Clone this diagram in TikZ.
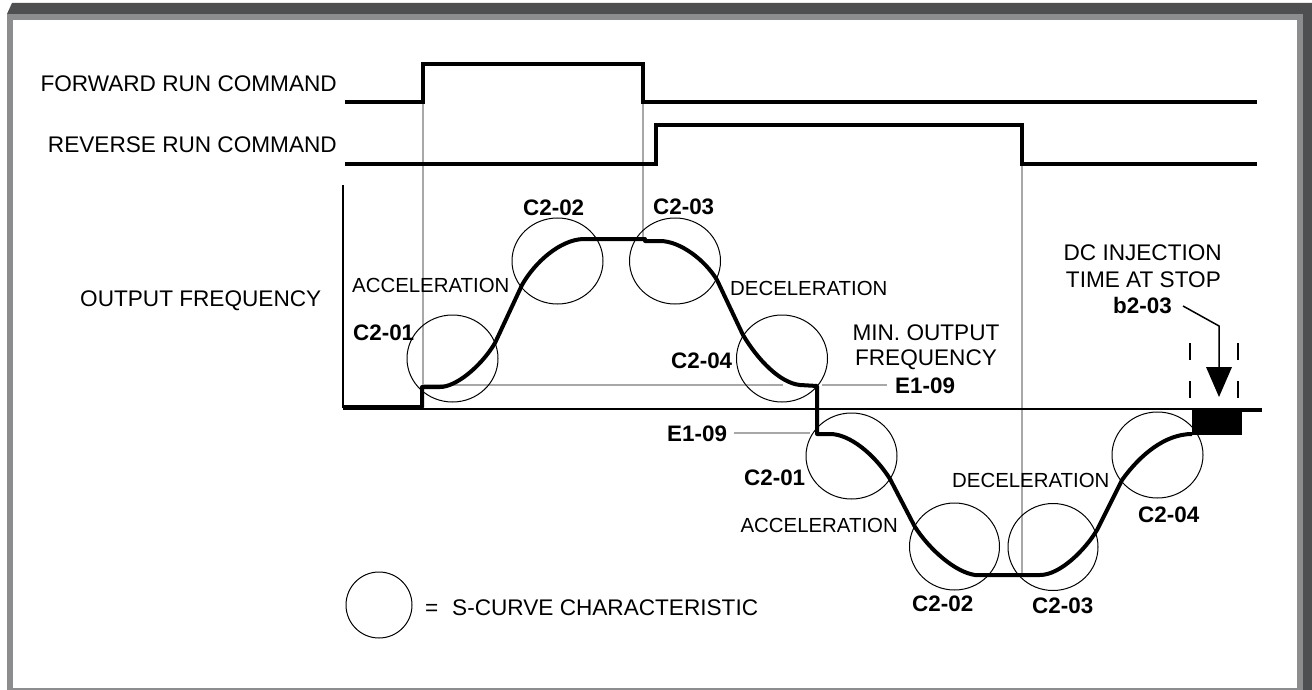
\documentclass[tikz,border=0pt]{standalone}
\usepackage{fontspec}
\setmainfont{Liberation Sans}
\definecolor{framedark}{HTML}{4E4F51}
\definecolor{framelight}{HTML}{8C8D8F}
\definecolor{guidegray}{HTML}{A8A8A8}
\tikzset{
  lbl/.style={inner sep=0pt, font=\fontsize{22.6}{26}\selectfont},
  blbl/.style={inner sep=0pt, font=\fontsize{22.4}{26}\selectfont\bfseries},
  slbl/.style={inner sep=0pt, font=\fontsize{20.4}{24}\selectfont},
  sig/.style={line width=4pt, line join=miter},
  freq/.style={line width=4pt, line join=round},
  scircle/.style={draw=black, line width=1pt},
  guide/.style={draw=guidegray, line width=1.5pt},
}
\begin{document}
\begin{tikzpicture}[x=1pt,y=-1pt]
\useasboundingbox (0,0) rectangle (1312,690);
% frame
\fill[framedark] (7,14) -- (12,3) -- (1312,3) -- (1312,690) -- (1303,690) -- (1303,14) -- cycle;
\fill[framelight] (7,14) rectangle (1303,20.5);
\fill[framelight] (7,14) rectangle (12.5,690);
\fill[framelight] (1297,14) rectangle (1303,690);
\fill[framelight] (7,687.5) rectangle (1303,690);

% labels
\node[lbl, anchor=base east] (fwdlbl) at (337,92) {FORWARD RUN COMMAND};
\node[lbl, anchor=base east] (revlbl) at (337,153) {REVERSE RUN COMMAND};
\node[lbl, anchor=base west] (outlbl) at (80,306) {OUTPUT FREQUENCY};

% guide lines
\draw[guide] (423,104) -- (423,387);
\draw[guide] (643,104) -- (643,239);
\draw[guide] (1022,166) -- (1022,575);
\draw[guide] (423,385) -- (783,385);

% command signals
\draw[sig] (345,102) -- (423,102) -- (423,64) -- (643,64) -- (643,102) -- (1257,102);
\draw[sig] (345,164) -- (656,164) -- (656,125) -- (1022,125) -- (1022,164) -- (1257,164);

% axes
\draw[line width=2pt] (343,185) -- (343,408);
\draw[line width=1.5pt] (343,409) -- (1262,409);
\draw[line width=3pt] (1242,410.5) -- (1262,410.5);

% S-curve circles
\draw[scircle] (452.5,358.5) ellipse [x radius=45.5, y radius=43.5];
\draw[scircle] (557.5,261) ellipse [x radius=45.5, y radius=43];
\draw[scircle] (675,261) ellipse [x radius=45.5, y radius=43];
\draw[scircle] (782,358.5) ellipse [x radius=45.5, y radius=43.5];
\draw[scircle] (851.5,456) ellipse [x radius=45.5, y radius=43];
\draw[scircle] (954.5,546.5) ellipse [x radius=45, y radius=43.5];
\draw[scircle] (1053,547) ellipse [x radius=45, y radius=43.5];
\draw[scircle] (1157.5,455) ellipse [x radius=45.5, y radius=43];

% output frequency
\draw[freq] (343,407) -- (422,407) -- (422,387) -- (440,387)
  .. controls (455,387) and (480,368) .. (495,343)
  -- (522,285)
  .. controls (535,262) and (560,240) .. (583,239)
  -- (645,239) -- (645,241) -- (660,241)
  .. controls (680,241) and (705,260) .. (717,280)
  -- (743,335)
  .. controls (758,360) and (780,383) .. (800,385)
  -- (817,386) -- (817,434) -- (830,434)
  .. controls (850,434) and (875,455) .. (890,479)
  -- (915,527)
  .. controls (930,550) and (955,572) .. (975,575)
  -- (1040,575)
  .. controls (1060,575) and (1085,550) .. (1097,530)
  -- (1122,480)
  .. controls (1140,455) and (1165,434) .. (1192,434);

% DC injection block
\fill (1192,408) rectangle (1242,435);
\draw[line width=1.5pt, dash pattern=on 17pt off 21pt] (1190,343) -- (1190,401);
\draw[line width=1.5pt, dash pattern=on 17pt off 21pt] (1238,343) -- (1238,401);

% circle labels
\node[slbl, anchor=base west] (acc1) at (352,292) {ACCELERATION};
\node[blbl, anchor=base west] (c201a) at (353,340) {C2-01};
\node[blbl, anchor=base west] (c202a) at (523,215) {C2-02};
\node[blbl, anchor=base west] (c203a) at (653,214) {C2-03};
\node[slbl, anchor=base west] (dec1) at (730,295) {DECELERATION};
\node[blbl, anchor=base west] (c204a) at (671,368) {C2-04};
\node[lbl, anchor=base] (minout) at (926,340) {MIN. OUTPUT};
\node[lbl, anchor=base] (minfreq) at (926,365) {FREQUENCY};
\node[blbl, anchor=base west] (e109a) at (895,393) {E1-09};
\node[blbl, anchor=base west] (e109b) at (667,441) {E1-09};
\node[blbl, anchor=base west] (c201b) at (744,485) {C2-01};
\node[slbl, anchor=base east] (acc2) at (898,532) {ACCELERATION};
\node[slbl, anchor=base west] (dec2) at (952,487) {DECELERATION};
\node[blbl, anchor=base west] (c202b) at (912,611) {C2-02};
\node[blbl, anchor=base west] (c203b) at (1032,613) {C2-03};
\node[blbl, anchor=base west] (c204b) at (1138,522) {C2-04};

% E1-09 leaders
\coordinate (e1a) at (822,385);
\coordinate (e1b) at (810,433);
\draw[guide] (e1a) -- (887,385);
\draw[guide] (e109b.east |- e1b) ++(7,0) -- (e1b);

% DC injection text and arrow
\node[lbl, anchor=base east] (dc1) at (1222,260) {DC INJECTION};
\node[lbl, anchor=base east] (dc2) at (1221,287) {TIME AT STOP};
\node[blbl, anchor=base west] (b203) at (1113,313) {b2-03};
\coordinate (bend) at (1219,326);
\coordinate (tip) at (1219,397);
\draw[line width=1.5pt] (1183,306) -- (bend) -- (1219,368);
\fill (1206,367) -- (1232,367) -- (tip) -- cycle;

% legend
\draw[scircle] (379,605) circle [radius=33];
\node[lbl, anchor=base west] (eq) at (425,615) {=};
\node[lbl, anchor=base west] (legend) at (452,615) {S-CURVE CHARACTERISTIC};
\end{tikzpicture}
\end{document}
